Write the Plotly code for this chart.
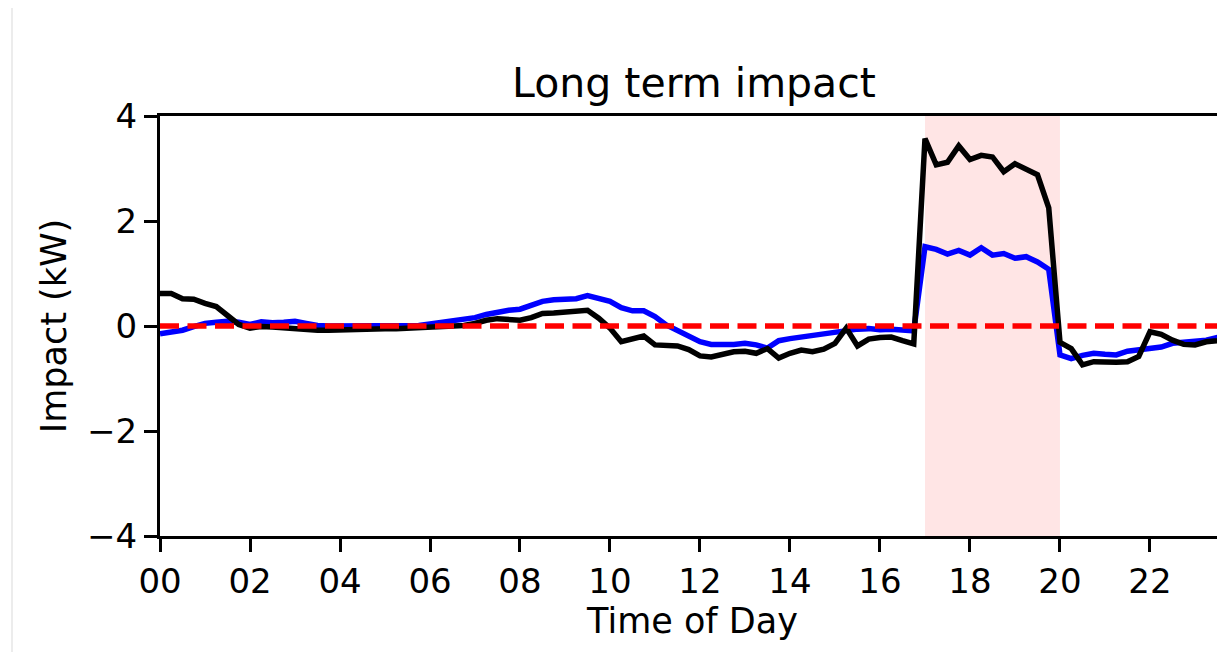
import plotly.graph_objects as go

# time of day in hours (15-minute steps)
hours = [i * 0.25 for i in range(96)]

impact_black = [
    0.62, 0.62, 0.52, 0.51, 0.43, 0.37, 0.20, 0.03,
    -0.04, -0.01, -0.02, -0.04, -0.06, -0.07, -0.08, -0.08,
    -0.07, -0.07, -0.07, -0.06, -0.05, -0.05, -0.04, -0.04,
    -0.03, -0.02, -0.02, 0.01, 0.05, 0.11, 0.14, 0.13,
    0.11, 0.16, 0.24, 0.25, 0.27, 0.28, 0.30, 0.15,
    -0.04, -0.30, -0.25, -0.19, -0.36, -0.38, -0.38, -0.45,
    -0.57, -0.59, -0.55, -0.49, -0.48, -0.52, -0.43, -0.61,
    -0.52, -0.46, -0.49, -0.44, -0.33, -0.04, -0.38, -0.25,
    -0.22, -0.21, -0.28, -0.34, 3.57, 3.07, 3.12, 3.43,
    3.17, 3.25, 3.22, 2.94, 3.09, 2.98, 2.88, 2.25,
    -0.31, -0.43, -0.74, -0.68, -0.69, -0.69, -0.68, -0.58,
    -0.11, -0.16, -0.27, -0.35, -0.36, -0.30, -0.28, -0.24,
]

impact_blue = [
    -0.15, -0.12, -0.08, -0.01, 0.05, 0.07, 0.09, 0.07,
    0.03, 0.08, 0.06, 0.07, 0.09, 0.05, 0.01, 0.00,
    0.00, -0.01, 0.00, 0.01, 0.00, 0.01, 0.00, 0.01,
    0.04, 0.07, 0.10, 0.12, 0.16, 0.22, 0.27, 0.30,
    0.32, 0.40, 0.47, 0.50, 0.52, 0.52, 0.58, 0.53,
    0.47, 0.35, 0.29, 0.29, 0.18, 0.02, -0.08, -0.18,
    -0.30, -0.35, -0.36, -0.35, -0.33, -0.36, -0.42, -0.28,
    -0.24, -0.21, -0.17, -0.14, -0.11, -0.08, -0.06, -0.05,
    -0.07, -0.06, -0.08, -0.09, 1.51, 1.46, 1.37, 1.44,
    1.35, 1.49, 1.35, 1.38, 1.29, 1.32, 1.22, 1.08,
    -0.55, -0.62, -0.56, -0.52, -0.54, -0.55, -0.48, -0.46,
    -0.44, -0.40, -0.33, -0.31, -0.29, -0.27, -0.22, -0.20,
]

xtick_vals = [0, 2, 4, 6, 8, 10, 12, 14, 16, 18, 20, 22]
xtick_text = ["00", "02", "04", "06", "08", "10", "12", "14", "16", "18", "20", "22"]
ytick_vals = [-4, -2, 0, 2, 4]
ytick_text = ["\u22124", "\u22122", "0", "2", "4"]
peak_start, peak_end = 17, 20

FONT = "DejaVu Sans"

fig = go.Figure()

fig.add_shape(type="rect", xref="x", yref="paper", x0=peak_start, x1=peak_end,
              y0=0, y1=1, fillcolor="rgba(255,0,0,0.1)", line_width=0, layer="below")

fig.add_trace(go.Scatter(x=hours, y=impact_blue, mode="lines",
                         line=dict(color="#0000ff", width=5.5), showlegend=False))
fig.add_trace(go.Scatter(x=hours, y=impact_black, mode="lines",
                         line=dict(color="#000000", width=5.5), showlegend=False))

fig.add_shape(type="line", xref="paper", yref="y", x0=0, x1=1, y0=0, y1=0,
              line=dict(color="#ff0000", width=5.5, dash="19px,8.5px"), layer="above")

# faint page border line at left
fig.add_shape(type="line", xref="paper", yref="paper",
              x0=(12 - 160) / 1065, x1=(12 - 160) / 1065, y0=-116 / 420, y1=(536 - 8) / 420,
              line=dict(color="#ececec", width=2), layer="above")

axis_common = dict(showline=True, linecolor="black", linewidth=3, ticks="outside",
                   ticklen=13, tickwidth=3, tickcolor="black", showgrid=False,
                   zeroline=False, tickfont=dict(family=FONT, size=34, color="black"))

# page body has an 8px offset; compensate so the plot area sits at 160..1225 x 116..536
fig.update_layout(
    width=1217, height=644,
    margin=dict(l=152, r=0, t=108, b=116),
    paper_bgcolor="white", plot_bgcolor="white",
    font=dict(family=FONT, color="black"),
    title=dict(text="Long term impact", font=dict(family=FONT, size=41, color="black"),
               xref="container", x=(694 - 8) / 1217, xanchor="center",
               yref="container", y=1 - (83 - 8) / 644, yanchor="middle"),
    xaxis=dict(range=[0, 23.667], mirror=True, tickvals=xtick_vals, ticktext=xtick_text,
               title=dict(text="Time of Day", font=dict(family=FONT, size=35), standoff=6),
               **axis_common),
    yaxis=dict(range=[-4, 4], tickvals=ytick_vals, ticktext=ytick_text,
               title=dict(text="Impact (kW)", font=dict(family=FONT, size=35), standoff=10),
               **axis_common),
)

fig.write_html("out.html")
